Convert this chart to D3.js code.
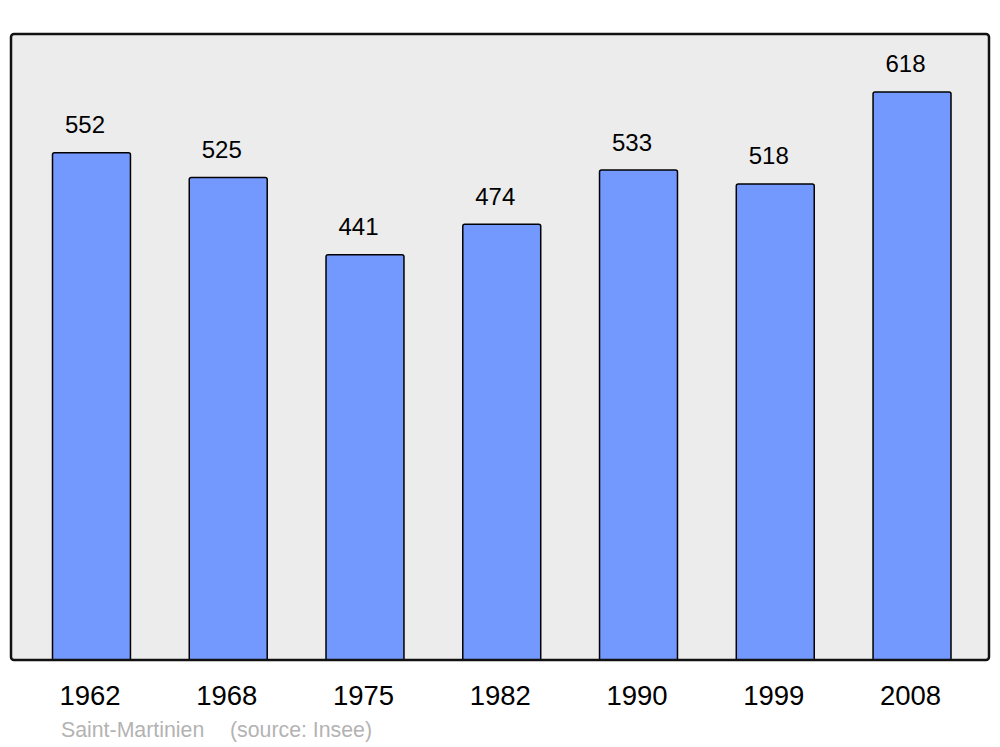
<!DOCTYPE html>
<html>
<head>
<meta charset="utf-8">
<script src="https://cdn.jsdelivr.net/npm/d3@7"></script>
<style>
	body { margin: 0; background: #ffffff; }
	svg { display: block; font-family: "Liberation Sans", Arial, sans-serif; }
</style>
</head>
<body>
<div id="chart"></div>
<script>
const years = ["1962", "1968", "1975", "1982", "1990", "1999", "2008"];
const population = [552, 525, 441, 474, 533, 518, 618];
const commune = "Saint-Martinien";
const source_label = "(source: Insee)";

const svg_dimensions = { width: 1000, height: 747 };
const frame = { left: 11, right: 989, top: 34, bottom: 660 };

const bar_color = "#7399ff";
const frame_color = "#ececec";

const svg = d3.select("#chart")
	.append("svg")
		.attr("width", svg_dimensions.width)
		.attr("height", svg_dimensions.height);

// plot background
svg.append("rect")
	.attr("x", frame.left)
	.attr("y", frame.top)
	.attr("width", frame.right - frame.left)
	.attr("height", frame.bottom - frame.top)
	.attr("rx", 3)
	.attr("fill", frame_color)
	.attr("stroke", "none");

const x = d3.scaleBand()
	.domain(years)
	.range([23.1, 980.4])
	.paddingInner(0.43)
	.paddingOuter(0.215);

const y = d3.scaleLinear()
	.domain([0, 681.1])
	.range([frame.bottom, frame.top]);

// bars, with slightly rounded top corners
function bar_path(year, value) {
	const x0 = x(year), x1 = x(year) + x.bandwidth();
	const y0 = y(0), y1 = y(value);
	const r = 2;
	return "M" + x0 + "," + y0
		+ "V" + (y1 + r)
		+ "Q" + x0 + "," + y1 + " " + (x0 + r) + "," + y1
		+ "H" + (x1 - r)
		+ "Q" + x1 + "," + y1 + " " + x1 + "," + (y1 + r)
		+ "V" + y0 + "Z";
}

svg.append("g")
	.selectAll("path")
	.data(years)
	.join("path")
		.attr("d", (d, i) => bar_path(d, population[i]))
		.attr("fill", bar_color)
		.attr("stroke", "#000000")
		.attr("stroke-width", 1.5);

// value labels
svg.append("g")
	.selectAll("text")
	.data(years)
	.join("text")
		.attr("x", d => x(d) + x.bandwidth() / 2 - 6.5)
		.attr("y", (d, i) => y(population[i]) - 19.5)
		.attr("text-anchor", "middle")
		.attr("font-size", 24)
		.attr("fill", "#000000")
		.text((d, i) => population[i]);

// frame border on top
svg.append("rect")
	.attr("x", frame.left)
	.attr("y", frame.top)
	.attr("width", frame.right - frame.left)
	.attr("height", frame.bottom - frame.top)
	.attr("rx", 3)
	.attr("fill", "none")
	.attr("stroke", "#111111")
	.attr("stroke-width", 2.5);

// year labels
svg.append("g")
	.selectAll("text")
	.data(years)
	.join("text")
		.attr("x", d => x(d) + x.bandwidth() / 2 - 1.5)
		.attr("y", 705)
		.attr("text-anchor", "middle")
		.attr("font-size", 27.5)
		.attr("fill", "#000000")
		.text(d => d);

// source line
svg.append("text")
	.attr("x", 61)
	.attr("y", 737)
	.attr("font-size", 21.3)
	.attr("fill", "#b3b3b3")
	.text(commune);
svg.append("text")
	.attr("x", 230)
	.attr("y", 737)
	.attr("font-size", 21.3)
	.attr("fill", "#b3b3b3")
	.text(source_label);
</script>
</body>
</html>
